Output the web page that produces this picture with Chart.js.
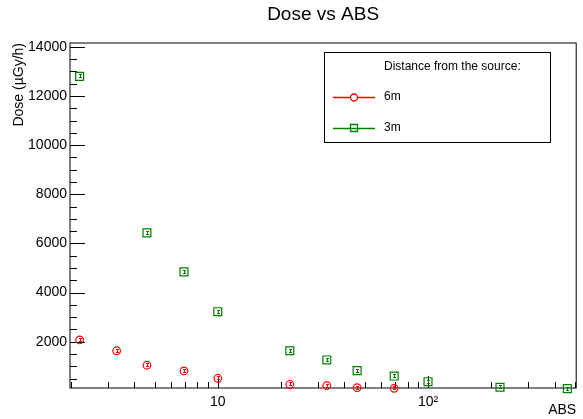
<!DOCTYPE html>
<html>
<head>
<meta charset="utf-8">
<title>Dose vs ABS</title>
<script src="https://cdn.jsdelivr.net/npm/chart.js@4.4.0/dist/chart.umd.min.js"></script>
<style>
    html, body { margin: 0; padding: 0; background: #fff; }
    #wrap { width: 583px; height: 419px; }
</style>
</head>
<body>
<div id="wrap"><canvas id="doseChart"></canvas></div>
<script>
// dữ liệu
const abs6m = [2.2, 3.3, 4.6, 6.9, 10, 22, 33, 46, 69];
const dose6m = [2070, 1630, 1040, 810, 510, 265, 210, 130, 100];
const abs3m = [2.2, 4.6, 6.9, 10, 22, 33, 46, 69, 100, 220, 460];
const dose3m = [12800, 6430, 4840, 3220, 1630, 1255, 820, 600, 370, 145, 90];

// nhãn trục
const xTickValues = [10, 100];
const xTickLabels = ['10', '10²'];
const yTickValues = [2000, 4000, 6000, 8000, 10000, 12000, 14000];
const chartTitle = 'Dose vs ABS';
const legendHeader = 'Distance from the source:';

const RED = 'rgb(255, 0, 0)';
const GREEN = 'rgb(0, 128, 0)';
const FONT = "'Liberation Sans', Arial, sans-serif";

Chart.defaults.font.family = FONT;
Chart.defaults.color = '#000';

function toPoints(xs, ys) {
    return xs.map((x, i) => ({ x: x, y: ys[i] }));
}

// khung, vạch chia, tiêu đề và chú thích kiểu ROOT
const rootStyle = {
    id: 'rootStyle',
    beforeDatasetsDraw(chart) {
        const { ctx, chartArea: a, scales } = chart;
        const xs = scales.x, ys = scales.y;
        ctx.save();
        ctx.strokeStyle = '#000';
        ctx.lineWidth = 1;
        ctx.strokeRect(a.left, a.top, a.right - a.left, a.bottom - a.top);

        ctx.beginPath();
        // vạch trục y
        for (let v = 500; v <= ys.max; v += 500) {
            const py = Math.round(ys.getPixelForValue(v)) + 0.5;
            const len = v % 2000 === 0 ? 15 : 7;
            ctx.moveTo(a.left, py);
            ctx.lineTo(a.left + len, py);
        }
        // vạch trục x (log)
        for (let dec = 1; dec <= 100; dec *= 10) {
            for (let k = 1; k < 10; k++) {
                const v = dec * k;
                if (v < xs.min || v > xs.max) continue;
                const px = Math.round(xs.getPixelForValue(v)) + 0.5;
                const len = k === 1 ? 12 : 6;
                ctx.moveTo(px, a.bottom);
                ctx.lineTo(px, a.bottom - len);
            }
        }
        ctx.stroke();
        ctx.restore();
    },
    afterDatasetsDraw(chart) {
        const { ctx, chartArea: a } = chart;
        ctx.save();
        // thanh sai số nhỏ trong marker
        chart.data.datasets.forEach((ds, i) => {
            ctx.fillStyle = ds.borderColor;
            chart.getDatasetMeta(i).data.forEach(pt => {
                const x = Math.round(pt.x), y = Math.round(pt.y);
                ctx.fillRect(x - 1, y - 2, 3, 1);
                ctx.fillRect(x, y - 2, 1, 4);
                ctx.fillRect(x - 1, y + 1, 3, 1);
            });
        });

        // tiêu đề
        ctx.fillStyle = '#000';
        ctx.font = '19px ' + FONT;
        ctx.textAlign = 'center';
        ctx.textBaseline = 'middle';
        ctx.fillText(chartTitle, (a.left + a.right) / 2, 15);

        // chú thích
        const bx = 324, by = 52, bw = 226, bh = 90;
        ctx.fillStyle = '#fff';
        ctx.fillRect(bx, by, bw, bh);
        ctx.strokeStyle = '#000';
        ctx.lineWidth = 1;
        ctx.strokeRect(bx + 0.5, by + 0.5, bw, bh);

        ctx.fillStyle = '#000';
        ctx.font = '12px ' + FONT;
        ctx.textAlign = 'left';
        ctx.fillText(legendHeader, 384, 67);

        const rows = [97, 128];
        chart.data.datasets.forEach((ds, i) => {
            const y = rows[i] + 0.5;
            ctx.strokeStyle = ds.borderColor;
            ctx.lineWidth = 1.3;
            ctx.beginPath();
            ctx.moveTo(333, y);
            ctx.lineTo(375, y);
            ctx.stroke();
            ctx.fillStyle = '#fff';
            ctx.beginPath();
            if (ds.pointStyle === 'circle') {
                ctx.arc(354, y, 3.5, 0, Math.PI * 2);
                ctx.fill();
                ctx.stroke();
            } else {
                ctx.rect(350.5, y - 4, 7, 7);
                ctx.stroke();
            }
            ctx.fillStyle = '#000';
            ctx.fillText(ds.label, 384, rows[i]);
        });
        ctx.restore();
    }
};

const config = {
    type: 'scatter',
    data: {
        datasets: [
            {
                label: '6m',
                data: toPoints(abs6m, dose6m),
                borderColor: RED,
                backgroundColor: 'rgba(0,0,0,0)',
                pointStyle: 'circle',
                pointRadius: 3.8,
                pointBorderWidth: 1.2,
                clip: false
            },
            {
                label: '3m',
                data: toPoints(abs3m, dose3m),
                borderColor: GREEN,
                backgroundColor: 'rgba(0,0,0,0)',
                pointStyle: 'rect',
                pointRadius: 5.6,
                pointBorderWidth: 1.2,
                clip: false
            }
        ]
    },
    options: {
        responsive: true,
        maintainAspectRatio: false,
        animation: false,
        devicePixelRatio: 1,
        layout: { padding: { top: 43, right: 5, left: 0, bottom: 0 } },
        plugins: {
            legend: { display: false },
            tooltip: { enabled: false },
            title: { display: false }
        },
        scales: {
            x: {
                type: 'logarithmic',
                min: 1.98,
                max: 507,
                grid: { display: false, drawTicks: false },
                border: { display: false },
                afterBuildTicks: s => { s.ticks = xTickValues.map(v => ({ value: v })); },
                afterFit: s => { s.height = 31; },
                ticks: {
                    autoSkip: false,
                    maxRotation: 0,
                    padding: 6,
                    font: { size: 14 },
                    callback: (v, i) => xTickLabels[i]
                },
                title: {
                    display: true,
                    text: 'ABS',
                    align: 'end',
                    font: { size: 14 },
                    padding: { top: -2, bottom: 0 }
                }
            },
            y: {
                min: 114,
                max: 14160,
                grid: { display: false, drawTicks: false },
                border: { display: false },
                afterBuildTicks: s => { s.ticks = yTickValues.map(v => ({ value: v })); },
                afterFit: s => { s.width = 70; },
                ticks: {
                    padding: 3,
                    font: { size: 14 },
                    callback: v => String(v)
                },
                title: {
                    display: true,
                    text: 'Dose (µGy/h)',
                    align: 'end',
                    font: { size: 14 },
                    padding: { top: 11, bottom: 0 }
                }
            }
        }
    },
    plugins: [rootStyle]
};

const ctx = document.getElementById('doseChart').getContext('2d');
const doseChart = new Chart(ctx, config);
</script>
</body>
</html>
